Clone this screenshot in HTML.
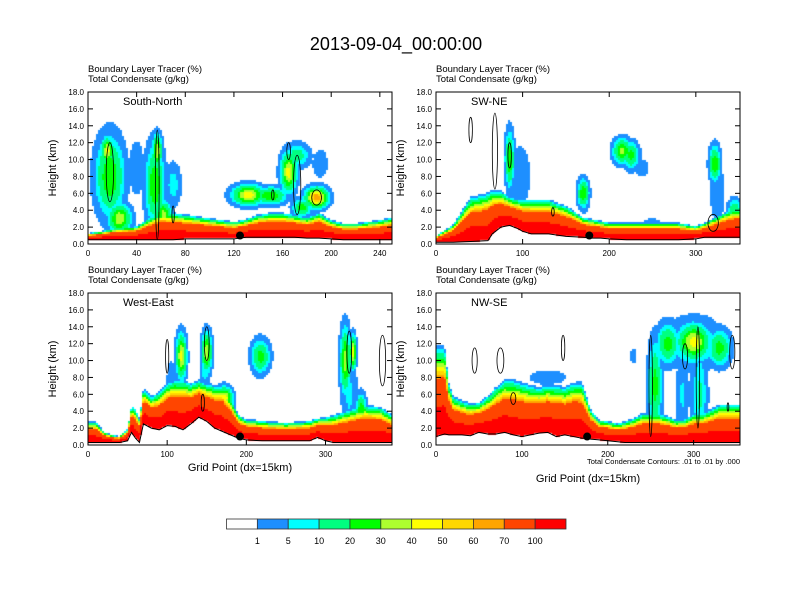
<!DOCTYPE html>
<html><head><meta charset="utf-8"><style>
body{margin:0;background:#fff;}
#root{position:relative;width:792px;height:612px;overflow:hidden;font-family:"Liberation Sans",sans-serif;}
canvas{position:absolute;}
svg{position:absolute;left:0;top:0;}
</style></head><body>
<div id="root">
<canvas id="c0" width="304" height="152" style="left:88px;top:92px"></canvas>
<canvas id="c1" width="304" height="152" style="left:436px;top:92px"></canvas>
<canvas id="c2" width="304" height="152" style="left:88px;top:293px"></canvas>
<canvas id="c3" width="304" height="152" style="left:436px;top:293px"></canvas>
<svg id="ov" width="792" height="612">
<text x="396" y="50" font-size="18" text-anchor="middle">2013-09-04_00:00:00</text>
</svg>
</div>
<script>
// ---- color scale ----
const LEVELS=[1,5,10,20,30,40,50,60,70,100];
const COLORS=['#ffffff','#1e8fff','#00ffff','#00ff80','#00ff00','#adff2f','#ffff00','#ffd700','#ffa500','#ff4500','#ff0000'];
const LEVEL_LABELS=['1','5','10','20','30','40','50','60','70','100'];
// ---- panel titles / axes ----
const TITLES=['South-North','SW-NE','West-East','NW-SE'];
const XMAX=[250,351,384,354];
const XTICKS0=[0,40,80,120,160,200,240];
const XTICKS1=[0,100,200,300];
const XTICKS2=[0,100,200,300];
const XTICKS3=[0,100,200,300];
const YTICKS=[0,2,4,6,8,10,12,14,16,18];
// ---- panel 1 South-North ----
const p0X=[0,10,20,30,40,50,60,70,80,90,100,110,120,130,140,150,160,170,180,190,200,210,220,230,240,250];
const p0Terr=[0.5,0.5,0.5,0.5,0.5,0.5,0.5,0.5,0.6,0.6,0.6,0.6,0.6,0.8,0.8,0.8,0.8,0.8,0.7,0.7,0.6,0.5,0.5,0.5,0.5,0.5];
const p0Top=[1.2,1.4,1.7,1.9,2.0,2.9,3.6,3.5,3.3,3.1,2.9,2.7,2.5,2.8,3.3,3.5,3.5,3.3,3.0,3.5,2.7,2.3,2.3,2.5,2.7,3.0];
const p0BX=[18,16,26,55,57,62,70,132,150,165,172,188,191,176,40];
const p0BZ=[8,11,3,7,11,3.5,7,5.8,5.7,8.5,10.5,5.5,9.5,4.3,9];
const p0SX=[9,4,7,6,3,5,5,10,10,5,8,7,5,6,6];
const p0SZ=[3.5,1.2,1.3,3.5,1.5,1.2,2,0.9,0.8,1.8,1.1,0.9,1.3,0.8,3];
const p0PK=[30,45,40,30,40,35,8,48,30,45,15,70,5,25,3];
// ---- panel 2 SW-NE ----
const p1X=[0,20,40,60,65,75,85,95,100,110,130,150,170,180,190,200,220,250,280,300,310,320,330,340,351];
const p1Terr=[0.2,0.2,0.3,0.4,1.2,2.0,2.2,1.8,1.5,1.2,1.2,0.9,0.8,0.7,0.7,0.6,0.5,0.5,0.5,0.6,0.8,0.8,0.8,0.8,0.8];
const p1Top=[0.9,2.2,5.2,5.7,6.1,6.0,5.4,5.1,5.0,5.0,5.0,4.3,3.0,2.8,2.6,2.4,2.4,2.4,2.4,2.0,2.4,2.9,3.4,3.9,4.0];
const p1BX=[85,97,90,170,215,225,238,322,325,345,250];
const p1BZ=[10,8,6,6,11,10.5,9,9.5,6,4,2.5];
const p1SX=[4,10,7,5,8,7,7,5,7,6,10];
const p1SZ=[2.5,3,3.5,1.3,1.1,1.2,1,1.6,3,1,0.5];
const p1PK=[30,4,4,30,35,25,3,30,4,20,3];
// ---- panel 3 West-East ----
const p2X=[0,10,20,30,40,50,55,60,65,70,80,90,100,110,120,130,140,150,160,170,180,190,200,220,250,280,290,300,310,330,350,370,384];
const p2Terr=[0.3,0.3,0.3,0.3,0.3,0.5,1.5,0.8,0.3,2.5,2.0,1.8,2.3,2.2,1.8,2.5,3.3,2.8,2.0,1.6,1.2,0.8,0.6,0.5,0.5,0.5,0.9,0.5,0.3,0.3,0.3,0.3,0.3];
const p2Top=[2.6,2.6,1.5,1.1,1.0,1.8,4.5,4.0,3.0,6.5,5.5,6.0,7.0,7.4,7.4,7.0,7.4,7.0,6.8,6.8,5.4,3.4,2.9,2.7,2.5,2.7,3.0,3.1,3.3,3.9,4.5,4.2,3.4];
const p2BX=[118,150,148,105,172,218,325,335,330,345];
const p2BZ=[10.5,11,9,7,5.5,10.5,10,11,6,4];
const p2SX=[5,5,5,5,8,9,5,3,8,5];
const p2SZ=[2,1.8,1.5,2.5,1,1.5,3,1.5,4,1.5];
const p2PK=[45,40,10,4,50,25,35,50,6,30];
// ---- panel 4 NW-SE ----
const p3X=[0,10,15,20,30,40,50,60,70,80,90,100,110,120,130,140,150,160,170,175,180,190,200,210,220,230,240,250,260,270,280,290,300,310,320,330,340,354];
const p3Terr=[1.0,1.3,1.2,1.2,1.2,1.1,1.5,1.3,1.3,1.5,1.2,1.0,1.2,1.4,1.5,1.0,1.2,1.0,0.8,0.8,0.7,0.6,0.5,0.4,0.3,0.3,0.3,0.3,0.3,0.3,0.3,0.3,0.3,0.3,0.3,0.3,0.3,0.3];
const p3Top=[11,11,7,5.5,5.0,4.7,4.8,5.5,6.5,7.3,7.3,7.0,6.7,6.5,6.8,6.7,6.5,7.0,7.0,5.5,4.0,2.8,2.7,2.4,2.6,3.0,3.5,3.5,3.5,3.2,2.8,2.9,3.5,3.5,4.0,4.5,4.5,4.5];
const p3BX=[270,300,330,300,255,287,307,130,230,110];
const p3BZ=[12,12.2,11.5,12,7,6,6,8,10.5,4.5];
const p3SX=[10,14,10,24,6,6,7,20,3,7];
const p3SZ=[1.8,1.6,1.6,2.2,4,3.5,4,0.8,0.7,0.6];
const p3PK=[25,45,25,14,25,6,12,3,5,45];
// ---- contour ellipses (x, z, rx, rz) ----
const c0X=[18,57,70,165,172,188,152],c0Z=[8.5,7,3.5,11,7,5.5,5.8],c0RX=[3,1.5,1,1.5,3,4,1],c0RZ=[3.5,6.5,1,1,3.5,0.9,0.6];
const c1X=[40,68,85,135,320],c1Z=[13.5,11,10.5,3.8,2.5],c1RX=[2,3,2,1.5,6],c1RZ=[1.5,4.5,1.5,0.5,1];
const c2X=[100,150,330,372,145],c2Z=[10.5,12,11,10,5],c2RX=[2,3,3,4,2],c2RZ=[2,2,2.5,3,1];
const c3X=[45,75,90,148,250,305,290,345,340],c3Z=[10,10,5.5,11.5,7,8,10.5,11,4.5],c3RX=[3,4,3,2,2,2,3,3,1],c3RZ=[1.5,1.5,0.7,1.5,6,6,1.5,2,0.5];
// ---- location dots ----
const DOTX=[125,177,192,176];
const DOTZ=[1,1,1,1];

const PANELS=[
 {L:88,T:92,X:p0X,terr:p0Terr,top:p0Top,bx:p0BX,bz:p0BZ,sx:p0SX,sz:p0SZ,pk:p0PK,xt:XTICKS0,cx:c0X,cz:c0Z,crx:c0RX,crz:c0RZ},
 {L:436,T:92,X:p1X,terr:p1Terr,top:p1Top,bx:p1BX,bz:p1BZ,sx:p1SX,sz:p1SZ,pk:p1PK,xt:XTICKS1,cx:c1X,cz:c1Z,crx:c1RX,crz:c1RZ},
 {L:88,T:293,X:p2X,terr:p2Terr,top:p2Top,bx:p2BX,bz:p2BZ,sx:p2SX,sz:p2SZ,pk:p2PK,xt:XTICKS2,cx:c2X,cz:c2Z,crx:c2RX,crz:c2RZ},
 {L:436,T:293,X:p3X,terr:p3Terr,top:p3Top,bx:p3BX,bz:p3BZ,sx:p3SX,sz:p3SZ,pk:p3PK,xt:XTICKS3,cx:c3X,cz:c3Z,crx:c3RX,crz:c3RZ}
];
const W=304,H=152,NS='http://www.w3.org/2000/svg';
function interp(xs,ys,x){if(x<=xs[0])return ys[0];for(let i=1;i<xs.length;i++){if(x<=xs[i]){const t=(x-xs[i-1])/(xs[i]-xs[i-1]);return ys[i-1]+t*(ys[i]-ys[i-1]);}}return ys[ys.length-1];}
function colorFor(v){let i=0;while(i<LEVELS.length&&v>=LEVELS[i])i++;return COLORS[i];}
function field(p,x,z){const tr=interp(p.X,p.terr,x);if(z<tr)return -1;const tp=interp(p.X,p.top,x);const f=(z-tr)/Math.max(0.1,tp-tr);
 let v=f<0.35?101:(f<0.65?80:(f<1.1?80*Math.pow((1.1-f)/0.45,1.5):0));
 for(let i=0;i<p.bx.length;i++){const dx=(x-p.bx[i])/p.sx[i],dz=(z-p.bz[i])/p.sz[i];const b=p.pk[i]*Math.exp(-dx*dx-dz*dz);if(b>v)v=b;}
 return v;}
const svg=document.getElementById('ov');
function el(tag,attrs,parent){const e=document.createElementNS(NS,tag);for(const k in attrs)e.setAttribute(k,attrs[k]);(parent||svg).appendChild(e);return e;}
PANELS.forEach((p,k)=>{
 const xmax=XMAX[k];
 const sxf=x=>p.L+x/xmax*W, syf=z=>p.T+H-z/18*H;
 const ctx=document.getElementById('c'+k).getContext('2d');
 ctx.fillStyle='#fff';ctx.fillRect(0,0,W,H);
 for(let px=0;px<W;px+=2){const x=(px+1)/W*xmax;
  for(let py=0;py<H;py+=2){const z=(H-py-1)/H*18;const v=field(p,x,z);if(v<1)continue;ctx.fillStyle=colorFor(v);ctx.fillRect(px,py,2,2);}}
 const g=el('g',{});
 
 
 for(let i=0;i<p.cx.length;i++){const e=el('ellipse',{cx:sxf(p.cx[i]),cy:syf(p.cz[i]),rx:p.crx[i]/xmax*W,ry:p.crz[i]/18*H,fill:'none',stroke:'#000','stroke-width':0.8},g);
  
  }
 const pts=p.X.map((x,i)=>sxf(x)+','+syf(p.terr[i])).join(' ');
 const tl=el('polyline',{points:pts,fill:'none',stroke:'#000','stroke-width':1},g);
 
 
 const dot=el('circle',{cx:sxf(DOTX[k]),cy:syf(DOTZ[k]),r:4,fill:'#000'},g);
 
 
 const fr=el('rect',{x:p.L,y:p.T,width:W,height:H,fill:'none',stroke:'#000','stroke-width':1},g);
 
 
 YTICKS.forEach(t=>{const y=syf(t);
  el('line',{x1:p.L,x2:p.L+5,y1:y,y2:y,stroke:'#000'},g);el('line',{x1:p.L+W-5,x2:p.L+W,y1:y,y2:y,stroke:'#000'},g);
  const tx=el('text',{x:p.L-4,y:y+3,'font-size':8,'text-anchor':'end'},g);tx.textContent=t.toFixed(1);
  
  });
 p.xt.forEach(t=>{const x=sxf(t);
  el('line',{x1:x,x2:x,y1:p.T+H,y2:p.T+H-5,stroke:'#000'},g);el('line',{x1:x,x2:x,y1:p.T,y2:p.T+5,stroke:'#000'},g);
  const tx=el('text',{x:x,y:p.T+H+12,'font-size':8,'text-anchor':'middle'},g);tx.textContent=t;
  
  });
 const yt=el('text',{x:0,y:0,'font-size':11,'text-anchor':'middle',transform:`translate(${p.L-32},${p.T+H/2}) rotate(-90)`},g);yt.textContent='Height (km)';
 
 
 const h1=el('text',{x:p.L,y:p.T-20,'font-size':9.5},g);h1.textContent='Boundary Layer Tracer    (%)';
 
 
 const h2=el('text',{x:p.L,y:p.T-10,'font-size':9.5},g);h2.textContent='Total Condensate    (g/kg)';
 
 
 const pt=el('text',{x:p.L+35,y:p.T+13,'font-size':11},g);pt.textContent=TITLES[k];
 
 
});
const xa=el('text',{x:240,y:471,'font-size':11,'text-anchor':'middle'});xa.textContent='Grid Point (dx=15km)';


const xb=el('text',{x:588,y:482,'font-size':11,'text-anchor':'middle'});xb.textContent='Grid Point (dx=15km)';


const nt=el('text',{x:740,y:464,'font-size':7.5,'text-anchor':'end'});nt.textContent='Total Condensate Contours: .01 to .01 by .000';


const cbL=226.5,cbW=339.5/COLORS.length;
COLORS.forEach((c,i)=>{const r=el('rect',{x:cbL+i*cbW,y:519,width:cbW,height:10,fill:c,stroke:'#333','stroke-width':0.8});
 
 });
LEVEL_LABELS.forEach((l,i)=>{const t=el('text',{x:cbL+(i+1)*cbW,y:544,'font-size':9,'text-anchor':'middle'});t.textContent=l;
 
 });
</script>
</body></html>
